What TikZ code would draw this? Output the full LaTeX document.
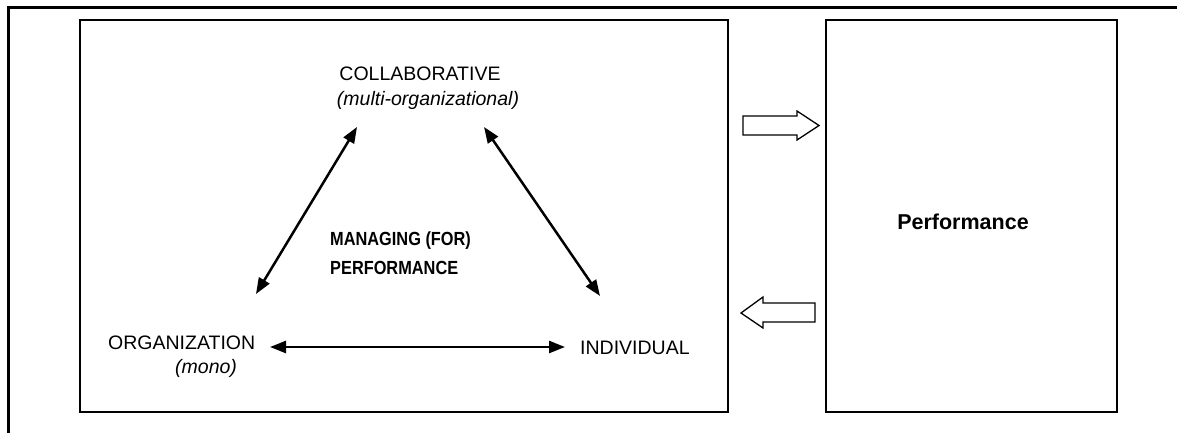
\documentclass[tikz,border=0pt]{standalone}
\usepackage{fontspec}
\setmainfont{Liberation Sans}
\usetikzlibrary{arrows.meta}
\newcommand{\tightbf}[1]{\scalebox{0.86}[1]{#1}}
\begin{document}
\begin{tikzpicture}[x=1pt,y=-1pt,
  lbl/.style={font=\fontsize{19.5}{22}\selectfont, inner sep=0pt},
  lblit/.style={font=\fontsize{19.5}{22}\selectfont\itshape, inner sep=0pt},
  lblbf/.style={font=\fontsize{19}{22}\selectfont\bfseries, inner sep=0pt, anchor=west},
  dbl/.style={{Triangle[length=16pt,width=12pt]}-{Triangle[length=16pt,width=12pt]}, line width=2.5pt},
  box/.style={draw, line width=1.8pt},
  fat/.style={draw, line width=1.3pt, fill=white, line join=miter}]
\useasboundingbox (0,0) rectangle (1177,433);
\draw[line width=3pt] (8,433) -- (8,8) -- (1177,8);
\draw[box] (80,20) rectangle (728,412);
\draw[box] (826,20) rectangle (1117,412);
\node[inner sep=0pt, font=\fontsize{21.5}{24}\selectfont\bfseries] (perf) at (963,222) {Performance};
\node[lbl] (collab) at (420,74) {COLLABORATIVE};
\node[lblit] (multi) at (428,100) {(multi-organizational)};
\node[lblbf] (manag) at (330,241) {\tightbf{MANAGING (FOR)}};
\node[lblbf] (perf2) at (330,268) {\tightbf{PERFORMANCE}};
\node[lbl, anchor=west] (org) at (108,343) {ORGANIZATION};
\node[lblit, anchor=west] (mono) at (175,368) {(mono)};
\node[lbl, anchor=west] (indiv) at (580,348) {INDIVIDUAL};
\coordinate (a1) at (256,294);
\coordinate (a2) at (357,127);
\coordinate (b1) at (484,127);
\coordinate (b2) at (600,296);
\coordinate (c1) at (270,347);
\coordinate (c2) at (565,347);
\draw[dbl] (a1) -- (a2);
\draw[dbl] (b1) -- (b2);
\draw[dbl] (c1) -- (c2);
\draw[fat] (743,116) -- (797,116) -- (797,111) -- (819,125.5) -- (797,140) -- (797,135) -- (743,135) -- cycle;
\draw[fat] (741,313) -- (763,297) -- (763,303) -- (815,303) -- (815,322) -- (763,322) -- (763,328) -- cycle;
\end{tikzpicture}
\end{document}
